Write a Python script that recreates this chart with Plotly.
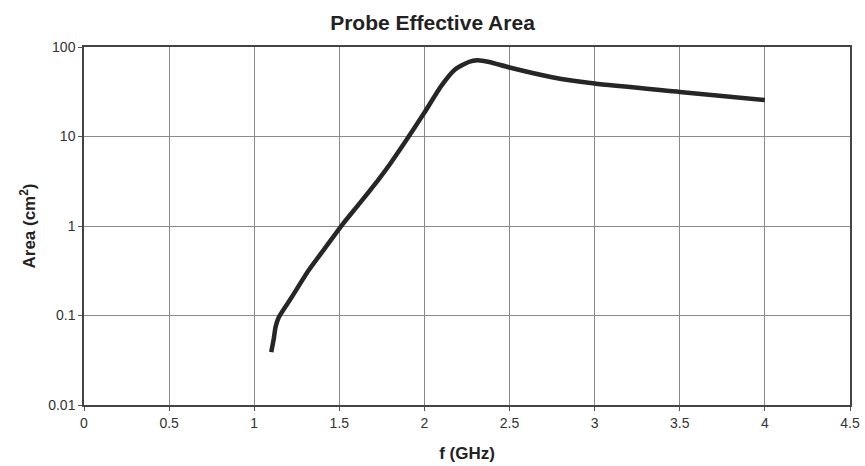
import plotly.graph_objects as go

freq_ghz = [1.10, 1.115, 1.125, 1.145, 1.22, 1.32, 1.42, 1.52, 1.62, 1.73, 1.80, 1.89,
            2.0, 2.1, 2.18, 2.26, 2.31, 2.38, 2.5, 2.75, 3.0, 3.5, 4.0]
area_cm2 = [0.039, 0.055, 0.074, 0.096, 0.16, 0.32, 0.58, 1.05, 1.8, 3.3, 5.0, 8.9,
            18.5, 37, 56, 68, 71, 68, 59, 46, 39, 31.5, 25.5]

x_ticks = [0, 0.5, 1, 1.5, 2, 2.5, 3, 3.5, 4, 4.5]
x_tick_labels = ["0", "0.5", "1", "1.5", "2", "2.5", "3", "3.5", "4", "4.5"]
y_ticks = [0.01, 0.1, 1, 10, 100]
y_tick_labels = ["0.01", "0.1", "1", "10", "100"]

font_family = "Liberation Sans Narrow, Arial Narrow, Liberation Sans, Arial, sans-serif"

fig = go.Figure()
fig.add_trace(go.Scatter(
    x=freq_ghz, y=area_cm2, mode="lines",
    line=dict(color="#262626", width=4.5, shape="spline", smoothing=0.6),
    showlegend=False,
))

fig.update_layout(
    width=865, height=466,
    margin=dict(l=84, r=15, t=47, b=61),
    paper_bgcolor="white", plot_bgcolor="white",
    title=dict(text="<b>Probe Effective Area</b>", x=0.5, xanchor="center",
               y=0.952, yanchor="middle",
               font=dict(family=font_family, size=21, color="#222")),
    font=dict(family=font_family, color="#333"),
)
fig.update_xaxes(
    range=[0, 4.5], tickvals=x_ticks, ticktext=x_tick_labels,
    showgrid=True, gridcolor="#8a8a8a", gridwidth=1,
    showline=True, linecolor="#444", linewidth=1.5, mirror=True,
    ticks="outside", ticklen=4, tickcolor="#555",
    tickfont=dict(size=14, color="#333"),
    title=dict(text="<b>f (GHz)</b>", font=dict(size=17, color="#222"), standoff=18),
    zeroline=False, automargin=False,
)
fig.update_yaxes(
    type="log", range=[-2, 2], tickvals=y_ticks, ticktext=y_tick_labels,
    showgrid=True, gridcolor="#8a8a8a", gridwidth=1,
    showline=True, linecolor="#444", linewidth=1.5, mirror=True,
    ticks="outside", ticklen=4, tickcolor="#555",
    tickfont=dict(size=14, color="#333"),
    title=dict(text="<b>Area (cm<sup>2</sup>)</b>", font=dict(size=17, color="#222"), standoff=8),
    zeroline=False,
)

fig.write_html("out.html")
